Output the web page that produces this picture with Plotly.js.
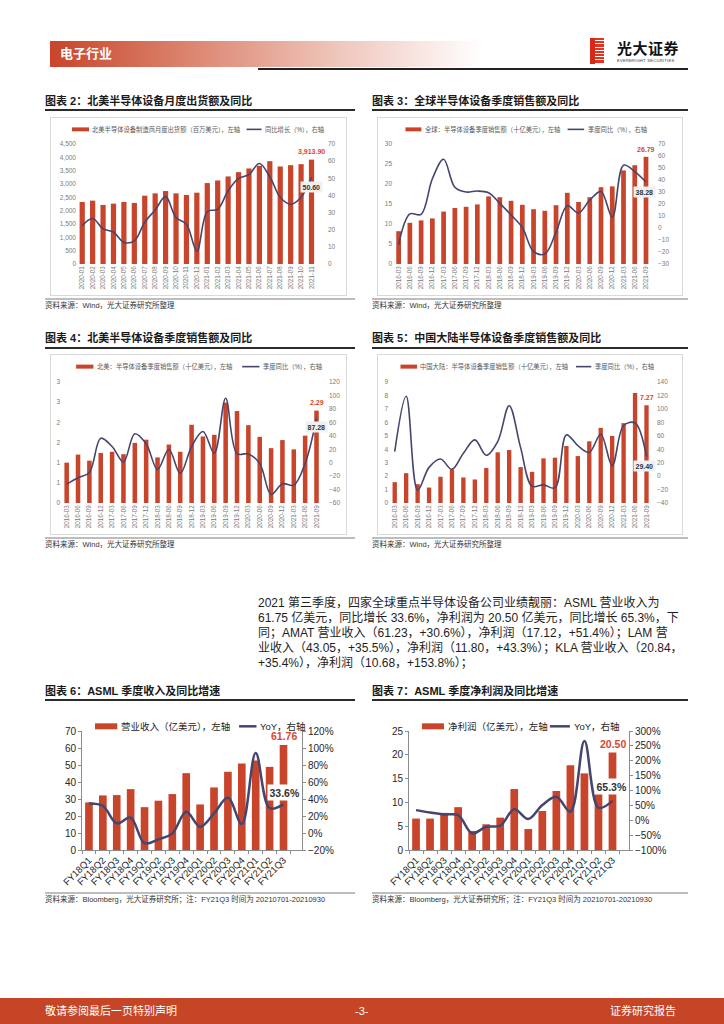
<!DOCTYPE html>
<html><head><meta charset="utf-8">
<script src="https://cdn.plot.ly/plotly-3.0.1.min.js"></script>
<style>
body{margin:0;width:724px;height:1024px;position:relative;background:#fff;font-family:"Liberation Sans","Noto Sans CJK SC",sans-serif;overflow:hidden}
.t{position:absolute;font-size:11px;font-weight:bold;color:#1a1a1a;white-space:nowrap;line-height:14px}
.ul{position:absolute;height:1.5px;background:#2b2b2b}
.fr{position:absolute;border:1px solid #d9d9d9;box-sizing:border-box}
.gl{position:absolute;height:1.5px;background:#bdbdbd}
.src{position:absolute;font-size:7.5px;color:#333;white-space:nowrap;line-height:10px}
.ch{position:absolute}
.p{position:absolute;left:258px;font-size:12px;color:#1e1e1e;white-space:nowrap;line-height:15px}
</style></head><body>

<!-- header -->
<div style="position:absolute;left:50px;top:41px;width:432px;height:26px;background:linear-gradient(to right,#c8452a 0%,#dd8a75 35%,#eec3b8 65%,#ffffff 100%)"></div>
<div style="position:absolute;left:60px;top:46px;font-size:13px;font-weight:bold;color:#fff;line-height:16px">电子行业</div>
<div style="position:absolute;left:258px;top:68px;width:430px;height:1.5px;background:#222"></div>
<div style="position:absolute;left:590px;top:38px;width:14px;height:26px;background:repeating-linear-gradient(to bottom,#e8321e 0px,#e8321e 2.2px,#ffffff 2.2px,#ffffff 3.2px)"></div>
<div style="position:absolute;left:590px;top:38px;width:5px;height:26px;background:#d62a18"></div>
<div style="position:absolute;left:617px;top:40px;font-size:15px;font-weight:bold;color:#111;line-height:18px;letter-spacing:0.5px">光大证券</div>
<div style="position:absolute;left:617px;top:58px;font-size:4px;color:#333;line-height:5px;letter-spacing:0.3px">EVERBRIGHT SECURITIES</div>

<!-- row 1 -->
<div class="t" style="left:45px;top:94px">图表 2：北美半导体设备月度出货额及同比</div>
<div class="ul" style="left:45px;top:109px;width:310px"></div>
<div class="t" style="left:372px;top:94px">图表 3：全球半导体设备季度销售额及同比</div>
<div class="ul" style="left:372px;top:109px;width:316px"></div>
<div class="fr" style="left:50px;top:117px;width:297px;height:179px"></div>
<div class="fr" style="left:377px;top:117px;width:306px;height:179px"></div>
<div class="gl" style="left:45px;top:298px;width:310px"></div>
<div class="gl" style="left:372px;top:298px;width:316px"></div>
<div class="src" style="left:45px;top:301px">资料来源：Wind，光大证券研究所整理</div>
<div class="src" style="left:372px;top:301px">资料来源：Wind，光大证券研究所整理</div>
<div id="c2" class="ch"></div>
<div id="c3" class="ch"></div>

<!-- row 2 -->
<div class="t" style="left:45px;top:331px">图表 4：北美半导体设备季度销售额及同比</div>
<div class="ul" style="left:45px;top:347px;width:310px"></div>
<div class="t" style="left:372px;top:331px">图表 5：中国大陆半导体设备季度销售额及同比</div>
<div class="ul" style="left:372px;top:347px;width:316px"></div>
<div class="fr" style="left:50px;top:354px;width:297px;height:181px"></div>
<div class="fr" style="left:377px;top:354px;width:306px;height:181px"></div>
<div class="gl" style="left:45px;top:537px;width:310px"></div>
<div class="gl" style="left:372px;top:537px;width:316px"></div>
<div class="src" style="left:45px;top:540px">资料来源：Wind，光大证券研究所整理</div>
<div class="src" style="left:372px;top:540px">资料来源：Wind，光大证券研究所整理</div>
<div id="c4" class="ch"></div>
<div id="c5" class="ch"></div>

<!-- paragraph -->
<div class="p" style="top:595.5px">2021 第三季度，四家全球重点半导体设备公司业绩靓丽：ASML 营业收入为</div>
<div class="p" style="top:610.5px">61.75 亿美元，同比增长 33.6%，净利润为 20.50 亿美元，同比增长 65.3%，下</div>
<div class="p" style="top:625.5px">同；AMAT 营业收入（61.23，+30.6%），净利润（17.12，+51.4%）；LAM 营</div>
<div class="p" style="top:640.5px">业收入（43.05，+35.5%），净利润（11.80，+43.3%）；KLA 营业收入（20.84，</div>
<div class="p" style="top:655.5px">+35.4%），净利润（10.68，+153.8%）；</div>

<!-- row 3 -->
<div class="t" style="left:45px;top:684px">图表 6：ASML 季度收入及同比增速</div>
<div class="ul" style="left:45px;top:699px;width:310px"></div>
<div class="t" style="left:372px;top:684px">图表 7：ASML 季度净利润及同比增速</div>
<div class="ul" style="left:372px;top:699px;width:316px"></div>
<div class="gl" style="left:45px;top:892px;width:310px"></div>
<div class="gl" style="left:372px;top:892px;width:316px"></div>
<div class="src" style="left:45px;top:895px">资料来源：Bloomberg，光大证券研究所；注：FY21Q3 时间为 20210701-20210930</div>
<div class="src" style="left:372px;top:895px">资料来源：Bloomberg，光大证券研究所；注：FY21Q3 时间为 20210701-20210930</div>
<div id="c6" class="ch"></div>
<div id="c7" class="ch"></div>

<!-- footer -->
<div style="position:absolute;left:0;top:998px;width:724px;height:26px;background:#c64526"></div>
<div style="position:absolute;left:45px;top:1004px;font-size:11px;color:#fff;line-height:14px">敬请参阅最后一页特别声明</div>
<div style="position:absolute;left:355px;top:1004px;font-size:11px;color:#fff;line-height:14px">-3-</div>
<div style="position:absolute;left:610px;top:1004px;font-size:11px;color:#fff;line-height:14px">证券研究报告</div>

<script>
// ---------------- data ----------------
const months2 = ["2020-01","2020-02","2020-03","2020-04","2020-05","2020-06","2020-07","2020-08","2020-09","2020-10","2020-11","2020-12","2021-01","2021-02","2021-03","2021-04","2021-05","2021-06","2021-07","2021-08","2021-09","2021-10","2021-11"];
const ship2 = [2326,2376,2214,2264,2326,2289,2562,2649,2736,2649,2587,2674,3035,3134,3284,3445,3582,3682,3856,3657,3706,3744,3913.90];
const yoy2 = [22.4,26.5,20.5,18.6,12.6,13.5,24.4,31.5,39.3,27.1,23.2,7.5,30.6,31.9,42.7,49.9,52.2,58.6,50.9,38.9,34.8,38.9,50.60];

const quarters = ["2016-03","2016-06","2016-09","2016-12","2017-03","2017-06","2017-09","2017-12","2018-03","2018-06","2018-09","2018-12","2019-03","2019-06","2019-09","2019-12","2020-03","2020-06","2020-09","2020-12","2021-03","2021-06","2021-09"];
const global3 = [8.2,10.3,10.9,11.4,13.1,14.0,14.3,14.9,16.9,16.7,15.8,14.8,13.7,13.3,14.7,17.8,15.5,16.7,19.2,19.4,23.4,24.7,26.79];
const yoy3 = [-14,11.7,11.4,41,57.3,34,30,30.8,29.4,20.5,10.9,0.4,-19.5,-21.7,-3.5,18.6,12.5,23.3,30.5,9,52.3,47,38.28];

const na4 = [1.0,1.2,1.05,1.24,1.27,1.21,1.49,1.57,1.13,1.45,1.27,1.94,1.65,1.69,2.49,2.28,1.93,1.64,1.36,1.56,1.33,1.67,2.29];
const yoy4 = [-32,-22.4,-14.5,36.4,24,1,43,28,-10,19.5,-16,24,46.4,14,95.8,13.5,13,-1,-47.4,-31.4,-33.4,-1,66];
const yoy4Label = "87.28";
const tickVals4 = [0,0.5,1,1.5,2,2.5,3];
const tickText4 = ["0","1","1","2","2","3","3"];

const cn5 = [1.55,2.22,1.4,1.15,1.95,2.5,1.9,1.75,2.6,3.77,3.94,2.67,2.32,3.32,3.37,4.24,3.49,4.59,5.59,4.99,5.94,8.18,7.27];
const yoy5 = [36.4,118.7,-21,13,25.4,10,34,53.9,31,51.4,104.7,42.4,-15,-13,-17.5,61.3,45.4,35.4,62.3,15.5,75.3,79,29.40];

const fyq = ["FY18Q1","FY18Q2","FY18Q3","FY18Q4","FY19Q1","FY19Q2","FY19Q3","FY19Q4","FY20Q1","FY20Q2","FY20Q3","FY20Q4","FY21Q1","FY21Q2","FY21Q3"];
const rev6 = [28,32.1,32.3,35.8,25.2,29,32.9,45.2,26.8,36.8,46,50.9,52.6,48.9,61.76];
const yoy6 = [0.348,0.32,0.113,0.18,-0.12,-0.075,-0.004,0.25,0.074,0.23,0.414,0.105,0.942,0.293,0.336];
const ni7 = [6.6,6.6,7.8,9.0,4.0,5.4,6.8,12.8,4.4,8.2,12.4,17.8,16.1,12.6,20.50];
const yoy7 = [0.34,0.26,0.195,0.17,-0.44,-0.22,-0.18,0.37,0.04,0.51,0.79,0.285,2.66,0.42,0.653];

// ---------------- drawing ----------------
const RED = "#c8442a", NAVY = "#45466f", FONT = "Liberation Sans, Noto Sans CJK SC, sans-serif";

function draw(id, o){
  const d = o.div, p = o.plot;
  const el = document.getElementById(id);
  el.style.left = d.x+"px"; el.style.top = d.y+"px";
  const px = v => (v - p.L)/(p.R - p.L);
  const py = v => (p.B - v)/(p.B - p.T);
  const n = o.x.length;
  const lg = o.legend;
  const shapes = [
    {type:"rect", xref:"paper", yref:"paper", x0:px(lg.r0), x1:px(lg.r1), y0:py(lg.y-lg.rh/2), y1:py(lg.y+lg.rh/2), fillcolor:RED, line:{width:0}},
    {type:"line", xref:"paper", yref:"paper", x0:px(lg.l0), x1:px(lg.l1), y0:py(lg.y), y1:py(lg.y), line:{color:NAVY, width:o.lw}}
  ];
  const ann = [
    {xref:"paper", yref:"paper", x:px(lg.t1), y:py(lg.y), xanchor:"left", yanchor:"middle", text:o.barName, showarrow:false, font:{size:lg.fs, color:lg.fc}},
    {xref:"paper", yref:"paper", x:px(lg.t2), y:py(lg.y), xanchor:"left", yanchor:"middle", text:o.lineName, showarrow:false, font:{size:lg.fs, color:lg.fc}},
    {xref:"x", yref:"y", x:o.x[n-1], y:o.bars[n-1], text:"<b>"+o.barLabel+"</b>", showarrow:false, yshift:o.bs, xshift:o.bx||0, font:{size:o.lbf, color:"#d9472b"}},
    {xref:"x", yref:"y2", x:o.x[n-1], y:o.line[n-1], text:"<b>"+o.lineLabel+"</b>", showarrow:false, yshift:o.ls, xshift:o.lx||0, bgcolor:o.lbg, borderpad:1.5, font:{size:o.lbf, color:"#333"}}
  ];
  const tc = o.tc;
  const axLine = o.axl;
  const layout = {
    width:d.w, height:d.h,
    margin:{l:p.L-d.x, r:d.x+d.w-p.R, t:p.T-d.y, b:d.y+d.h-p.B, pad:0},
    paper_bgcolor:"rgba(0,0,0,0)", plot_bgcolor:"rgba(0,0,0,0)",
    font:{family:FONT, color:tc},
    showlegend:false, bargap:o.gap,
    xaxis:{type:"category", tickangle:o.xa, tickfont:{size:o.xf, color:tc}, automargin:false, showgrid:false,
           showline:axLine, linecolor:"#8c8c8c", linewidth:1, ticks:axLine?"outside":"", tickson:"boundaries", ticklen:3, tickcolor:"#8c8c8c", fixedrange:true},
    yaxis:Object.assign({range:o.yr, showgrid:false, zeroline:false, automargin:false, tickfont:{size:o.yf, color:tc},
           showline:axLine, linecolor:"#8c8c8c", ticks:axLine?"outside":"", ticklen:3, tickcolor:"#8c8c8c"}, o.yax),
    yaxis2:Object.assign({range:o.y2r, overlaying:"y", side:"right", showgrid:false, zeroline:false, automargin:false, tickfont:{size:o.yf, color:tc},
           showline:axLine, linecolor:"#8c8c8c", ticks:axLine?"outside":"", ticklen:3, tickcolor:"#8c8c8c"}, o.y2ax),
    shapes:shapes, annotations:ann
  };
  const traces = [
    {type:"bar", x:o.x, y:o.bars, name:o.barName, marker:{color:RED}, yaxis:"y", hoverinfo:"skip"},
    {type:"scatter", mode:"lines", x:o.x, y:o.line, name:o.lineName, yaxis:"y2", line:{color:NAVY, width:o.lw, shape:"spline", smoothing:1}, hoverinfo:"skip"}
  ];
  Plotly.newPlot(el, traces, layout, {staticPlot:true, displayModeBar:false});
}

const small = {xa:-90, xf:6.3, yf:6.5, tc:"#7a7a7a", axl:false, lw:1.6, lbf:7, lbg:"#f0f0f0"};

draw("c2", Object.assign({}, small, {
  div:{x:50,y:117,w:297,h:180}, plot:{L:77.3,R:327.1,T:143.7,B:264.3},
  x:months2, bars:ship2, line:yoy2, gap:0.5,
  barName:"北美半导体设备制造商月度出货额（百万美元），左轴", lineName:"同比增长（%），右轴",
  legend:{y:129, r0:72.3, r1:89.3, rh:4, t1:90.5, l0:246.7, l1:261.7, t2:263, fs:6.3, fc:"#595959"},
  yr:[0,4500], yax:{dtick:500, tickformat:",d"}, y2r:[0,70], y2ax:{dtick:10},
  barLabel:"3,913.90", lineLabel:"50.60", bs:8, ls:-10, lx:0
}));

draw("c3", Object.assign({}, small, {
  div:{x:377,y:117,w:306,h:180}, plot:{L:392.5,R:657.4,T:143.7,B:264.3},
  x:quarters, bars:global3, line:yoy3, gap:0.58,
  barName:"全球：半导体设备季度销售额（十亿美元），左轴", lineName:"季度同比（%），右轴",
  legend:{y:129, r0:405, r1:421, rh:4, t1:422.5, l0:567.7, l1:584.3, t2:586.5, fs:6.3, fc:"#595959"},
  yr:[0,30], yax:{dtick:5}, y2r:[-30,70], y2ax:{dtick:10},
  barLabel:"26.79", lineLabel:"38.28", bs:7, ls:-10, lx:-2
}));

draw("c4", Object.assign({}, small, {
  div:{x:50,y:354,w:297,h:181}, plot:{L:60.9,R:327.8,T:382.3,B:502.7},
  x:quarters, bars:na4, line:yoy4, gap:0.6,
  barName:"北美：半导体设备季度销售额（十亿美元），左轴", lineName:"季度同比（%），右轴",
  legend:{y:367, r0:76, r1:93.3, rh:4, t1:94.5, l0:242, l1:259.3, t2:261, fs:6.3, fc:"#595959"},
  yr:[0,3], yax:{tickmode:"array", tickvals:tickVals4, ticktext:tickText4}, y2r:[-60,120], y2ax:{dtick:20},
  barLabel:"2.29", lineLabel:yoy4Label, bs:8.5, ls:-9, lx:0
}));

draw("c5", Object.assign({}, small, {
  div:{x:377,y:354,w:306,h:181}, plot:{L:388.5,R:655.8,T:382.3,B:502.7},
  x:quarters, bars:cn5, line:yoy5, gap:0.62,
  barName:"中国大陆：半导体设备季度销售额（十亿美元），左轴", lineName:"季度同比（%），右轴",
  legend:{y:367, r0:400, r1:416.7, rh:4, t1:418, l0:575.7, l1:591, t2:593, fs:6.3, fc:"#595959"},
  yr:[0,9], yax:{dtick:1}, y2r:[-40,140], y2ax:{dtick:20},
  barLabel:"7.27", lineLabel:"29.40", bs:8, ls:-10, lx:-2
}));

const big = {xa:-45, xf:9.5, yf:10, tc:"#262626", axl:true, lw:2.5, lbf:10.5, lbg:"#ffffff"};

draw("c6", Object.assign({}, big, {
  div:{x:40,y:715,w:318,h:178}, plot:{L:82,R:302.3,T:730.7,B:850},
  x:fyq, bars:rev6, line:yoy6, gap:0.45,
  barName:"营业收入（亿美元），左轴", lineName:"YoY，右轴",
  legend:{y:726, r0:95, r1:117.3, rh:6, t1:119, l0:239.3, l1:256.7, t2:258, fs:9.5, fc:"#262626"},
  yr:[0,70], yax:{dtick:10}, y2r:[-0.2,1.2], y2ax:{dtick:0.2, tickformat:".0%"},
  barLabel:"61.76", lineLabel:"33.6%", bs:9, ls:12, lx:1
}));

draw("c7", Object.assign({}, big, {
  div:{x:365,y:715,w:323,h:178}, plot:{L:409.4,R:629,T:730.7,B:850},
  x:fyq, bars:ni7, line:yoy7, gap:0.45,
  barName:"净利润（亿美元），左轴", lineName:"YoY，右轴",
  legend:{y:726, r0:422.3, r1:444.3, rh:6, t1:446, l0:550, l1:570, t2:572, fs:9.5, fc:"#262626"},
  yr:[0,25], yax:{dtick:5}, y2r:[-1,3], y2ax:{dtick:0.5, tickformat:".0%"},
  barLabel:"20.50", lineLabel:"65.3%", bs:8.5, ls:14, lx:-1
}));
</script>
</body></html>
